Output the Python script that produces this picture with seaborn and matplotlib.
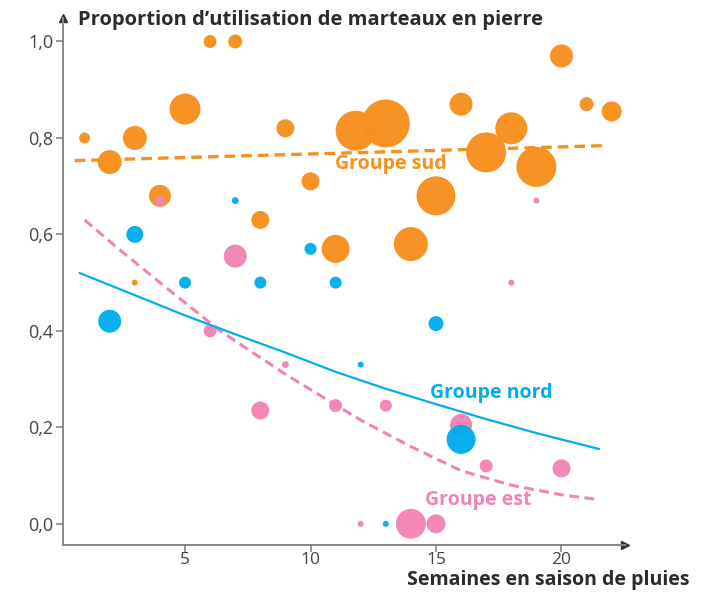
import pandas as pd
import seaborn as sns
from matplotlib import pyplot as plt

# données
sud_semaines = [1, 2, 3, 3, 4, 5, 6, 7, 8, 9, 10, 11, 11.8, 13, 14, 15, 16, 17, 18, 19, 20, 21, 22]
sud_prop = [0.80, 0.75, 0.80, 0.50, 0.68, 0.86, 1.0, 1.0, 0.63, 0.82, 0.71, 0.57, 0.815,
            0.83, 0.58, 0.68, 0.87, 0.77, 0.82, 0.74, 0.97, 0.87, 0.855]
sud_effectif = [30, 144, 144, 9, 121, 240, 42, 49, 81, 81, 81, 196, 400,
                576, 289, 380, 132, 400, 256, 400, 132, 49, 100]

est_semaines = [4, 6, 7, 8, 9, 11, 12, 13, 14, 15, 16, 17, 18, 19, 20]
est_prop = [0.67, 0.40, 0.555, 0.235, 0.33, 0.245, 0.0, 0.245, 0.0, 0.0, 0.205, 0.12, 0.50, 0.67, 0.115]
est_effectif = [25, 42, 132, 81, 12, 42, 9, 36, 225, 90, 121, 42, 9, 9, 81]

nord_semaines = [2, 3, 5, 7, 8, 10, 11, 12, 13, 15, 16]
nord_prop = [0.42, 0.60, 0.50, 0.67, 0.50, 0.57, 0.50, 0.33, 0.0, 0.415, 0.175]
nord_effectif = [132, 72, 36, 12, 36, 36, 36, 9, 9, 56, 210]

# tendances
sud_tend_x = [0.6, 21.7]
sud_tend_y = [0.753, 0.784]
nord_tend_x = [0.8, 3, 5, 7, 9, 11, 13, 15, 17, 19, 21.5]
nord_tend_y = [0.52, 0.474, 0.432, 0.393, 0.355, 0.315, 0.28, 0.248, 0.217, 0.188, 0.155]
est_tend_x = [1, 2.4, 4, 6.4, 9, 12, 14, 16, 18, 20, 21.5]
est_tend_y = [0.63, 0.568, 0.50, 0.40, 0.31, 0.215, 0.16, 0.11, 0.08, 0.06, 0.05]

orange = '#F7901E'
rose = '#F283B6'
bleu = '#00AEEF'

sns.set_theme(style='white')
plt.rcParams['font.family'] = ['Open Sans', 'DejaVu Sans']

fig = plt.figure(figsize=(7.09, 5.97), dpi=100)
ax = fig.add_axes([0.0889, 0.0871, 0.7926, 0.883])

taille = dict(size_norm=(0, 600), sizes=(0, 1242), linewidth=0, legend=False, alpha=0.97)

sns.scatterplot(x=sud_semaines, y=sud_prop, size=sud_effectif, color=orange, ax=ax, zorder=2, **taille)
sns.scatterplot(x=est_semaines, y=est_prop, size=est_effectif, color=rose, ax=ax, zorder=3, **taille)
sns.scatterplot(x=nord_semaines, y=nord_prop, size=nord_effectif, color=bleu, ax=ax, zorder=4, **taille)

sns.lineplot(x=sud_tend_x, y=sud_tend_y, color=orange, linewidth=2.4,
             linestyle=(0, (3.2, 1.8)), ax=ax, zorder=5)
sns.lineplot(x=est_tend_x, y=est_tend_y, color=rose, linewidth=2.2,
             linestyle=(0, (3.2, 1.8)), ax=ax, zorder=5)
sns.lineplot(x=nord_tend_x, y=nord_tend_y, color=bleu, linewidth=1.6, ax=ax, zorder=5)

ax.text(13.2, 0.745, 'Groupe sud', color=orange, fontsize=14, fontweight='bold', ha='center', va='center')
ax.text(17.2, 0.272, 'Groupe nord', color=bleu, fontsize=14, fontweight='bold', ha='center', va='center')
ax.text(16.7, 0.05, 'Groupe est', color=rose, fontsize=14, fontweight='bold', ha='center', va='center')

ax.set_xlim(0.14, 22.53)
ax.set_ylim(-0.044, 1.049)
ax.set_xticks([5, 10, 15, 20])
ax.set_yticks([0, 0.2, 0.4, 0.6, 0.8, 1.0])
ax.set_yticklabels(['0,0', '0,2', '0,4', '0,6', '0,8', '1,0'])
ax.tick_params(axis='both', direction='out', length=5, width=1.2, color='#888888',
               labelcolor='#444444', left=True, bottom=True)
ax.tick_params(axis='y', labelsize=13, pad=2)
ax.tick_params(axis='x', labelsize=12.5, pad=0)

for cote in ['top', 'right']:
    ax.spines[cote].set_visible(False)
for cote in ['left', 'bottom']:
    ax.spines[cote].set_color('#888888')
    ax.spines[cote].set_linewidth(1.4)

# flèches au bout des axes
ax.plot(1, 0, marker='>', color='#333333', markersize=6, transform=ax.transAxes, clip_on=False)
ax.plot(0, 1, marker='^', color='#333333', markersize=6, transform=ax.transAxes, clip_on=False)

fig.text(0.11, 0.966, 'Proportion d\u2019utilisation de marteaux en pierre', fontsize=14.5,
         fontweight='bold', color='#2b2b2b', ha='left', va='center')
fig.text(0.973, 0.029, 'Semaines en saison de pluies', fontsize=14,
         fontweight='bold', color='#2b2b2b', ha='right', va='center')

fig.savefig('out.png', dpi=100, facecolor='white')
